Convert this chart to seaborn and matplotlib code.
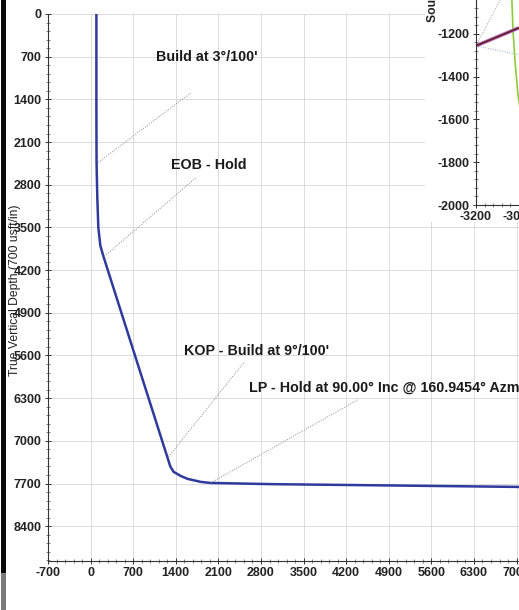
import numpy as np
import pandas as pd
import matplotlib.pyplot as plt
import seaborn as sns
from matplotlib.patches import Rectangle
from matplotlib.ticker import MultipleLocator

# wellpath (vertical section vs true vertical depth)
vert_section = [95, 95, 98, 110, 127, 160, 214, 1265, 1310, 1364, 1480, 1594, 1807, 1972, 3000, 5000, 7100]
tvd = [0, 1500, 2440, 3000, 3500, 3800, 3984, 7279, 7420, 7508, 7575, 7623, 7672, 7690, 7710, 7732, 7756]

x_ticks = [-700, 0, 700, 1400, 2100, 2800, 3500, 4200, 4900, 5600, 6300, 7000]
y_ticks = [0, 700, 1400, 2100, 2800, 3500, 4200, 4900, 5600, 6300, 7000, 7700, 8400]

# annotations: label, text anchor (x, tvd), pointer start, pointed point
labels = ["Build at 3°/100'", "EOB - Hold", "KOP - Build at 9°/100'",
          "LP - Hold at 90.00° Inc @ 160.9454° Azm"]
label_pos = [(1068, 705), (1315, 2475), (1528, 5524), (2596, 6131)]
ptr_from = [(1643, 1295), (1725, 2690), (2514, 5721), (4387, 6328)]
ptr_to = [(115, 2440), (214, 3984), (1265, 7279), (1972, 7690)]

# plan view inset (partial)
plan_ew = [-3200, -3000]
plan_ns = [-1256, -1172]
cone_a_ew = [-3200, -3088]
cone_a_ns = [-1256, -1042]
cone_b_ew = [-3200, -3000]
cone_b_ns = [-1256, -1298]
ellipse_ew = [-3033, -3028, -3019, -3005, -2991]
ellipse_ns = [-1042, -1181, -1321, -1484, -1577]

sns.set_theme(style="white")
plt.rcParams['font.family'] = ['Liberation Sans', 'DejaVu Sans']
plt.rcParams['axes.unicode_minus'] = False

W, H = 519, 610
fig = plt.figure(figsize=(W / 100, H / 100), dpi=100)
fig.patch.set_facecolor('white')


def style_axes(a):
    for s in ['top', 'right']:
        a.spines[s].set_visible(False)
    for s in ['left', 'bottom']:
        a.spines[s].set_color('#333333')
        a.spines[s].set_linewidth(0.8)
    a.tick_params(which='major', direction='inout', length=5, width=0.7,
                  colors='#333333', labelsize=9, pad=2)
    a.tick_params(which='minor', direction='inout', length=3, width=0.5, colors='#555555')
    a.tick_params(axis='both', which='both', left=True, bottom=True)
    for lab in a.get_xticklabels() + a.get_yticklabels():
        lab.set_fontweight('bold')
        lab.set_color('#222222')


ax = fig.add_axes([48 / W, 1 - 561 / H, 1 - 48 / W, (561 - 14) / H])
df = pd.DataFrame({'vs': vert_section, 'tvd': tvd})
sns.lineplot(data=df, x='vs', y='tvd', sort=False, estimator=None,
             color='#2e3a9c', linewidth=1.8, ax=ax)
ax.set_xlim(-700, 7040)
ax.set_ylim(8970, 0)
ax.set_xticks(x_ticks)
ax.set_yticks(y_ticks)
ax.xaxis.set_minor_locator(MultipleLocator(140))
ax.yaxis.set_minor_locator(MultipleLocator(140))
ax.grid(True, which='major', color='#d4d4d4', linewidth=0.6)
ax.set_xlabel('')
ax.set_ylabel('')
style_axes(ax)

for txt, pos, p0, p1 in zip(labels, label_pos, ptr_from, ptr_to):
    ax.text(pos[0], pos[1], txt, fontsize=10.3, fontweight='bold', color='#1a1a1a',
            ha='left', va='center')
    ax.plot([p0[0], p1[0]], [p0[1], p1[1]], color='#8a8a8a', linewidth=0.7,
            linestyle=(0, (1, 1.5)))

fig.text(15 / W, 1 - 290 / H, 'True Vertical Depth (700 usft/in)', rotation=90,
         ha='center', va='center', fontsize=8.7, color='#222222')

# white panel behind the inset
fig.patches.append(Rectangle((425 / W, 1 - 222 / H), 1 - 425 / W, 222 / H,
                             transform=fig.transFigure, facecolor='white',
                             edgecolor='none', zorder=2))

axi = fig.add_axes([476 / W, 1 - 205 / H, 1 - 476 / W, 205 / H], zorder=3)
axi.set_facecolor('white')
axi.plot(cone_a_ew, cone_a_ns, color='#9a9a9a', linewidth=0.7, linestyle=(0, (1, 1.5)))
axi.plot(cone_b_ew, cone_b_ns, color='#9aa6c0', linewidth=0.7, linestyle=(0, (1, 1.5)))
axi.plot(ellipse_ew, ellipse_ns, color='#8ccc3c', linewidth=1.2)
axi.plot(plan_ew, plan_ns, color='#b070c0', linewidth=2.6, solid_capstyle='butt')
axi.plot(plan_ew, plan_ns, color='#6a1f2a', linewidth=1.3, solid_capstyle='butt')
axi.set_xlim(-3200, -3000)
axi.set_ylim(-2000, -1042)
axi.set_xticks([-3200, -3000])
axi.set_yticks([-2000, -1800, -1600, -1400, -1200])
axi.xaxis.set_minor_locator(MultipleLocator(40))
axi.yaxis.set_minor_locator(MultipleLocator(40))
style_axes(axi)
fig.text(433 / W, 1 - 22 / H, 'South(-)/North(+) (200 usft/in)', rotation=90,
         ha='center', va='bottom', fontsize=8.7, fontweight='bold', color='#222222',
         zorder=4)

# scanner edge on the left
fig.patches.append(Rectangle((1 / W, 0.06), 5 / W, 0.94, transform=fig.transFigure,
                             facecolor='#0a0a0a', edgecolor='none', zorder=5))
fig.patches.append(Rectangle((1 / W, 0.0), 5 / W, 0.06, transform=fig.transFigure,
                             facecolor='#7a7a7a', edgecolor='none', zorder=5))

fig.savefig('out.png', dpi=100, facecolor='white')
